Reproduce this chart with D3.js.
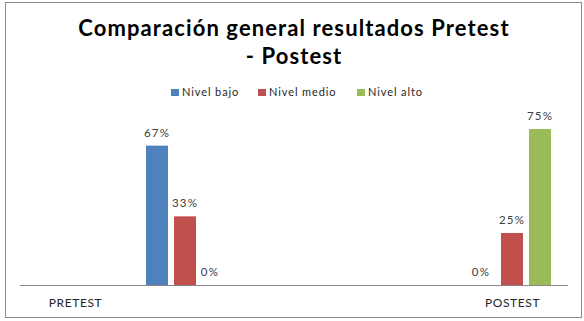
<!DOCTYPE html>
<html>
<head>
<meta charset="utf-8">
<script src="https://cdn.jsdelivr.net/npm/d3@7"></script>
<style>
  body { margin: 0; background: #fff; }
  svg text { font-family: Lato, "Open Sans", sans-serif; }
</style>
</head>
<body>
<div id="chart"></div>
<script>
const categories = ['PRETEST', 'POSTEST']
const series = ['Nivel bajo', 'Nivel medio', 'Nivel alto']
const bajo = [0.67, 0]
const medio = [0.33, 0.25]
const alto = [0, 0.75]
const labels = [['67%', '0%'], ['33%', '25%'], ['0%', '75%']]
const colors = ['#4F81BD', '#C0504D', '#9BBB59']

const W = 584, H = 321
const axisY = 285

const svg = d3.select('#chart').append('svg')
    .attr('width', W)
    .attr('height', H)

// frame
svg.append('rect')
    .attr('x', 5.5).attr('y', 2.5)
    .attr('width', 576).attr('height', 315)
    .attr('fill', '#fff')
    .attr('stroke', '#8c8c8c')

// title
const title = svg.append('text')
    .attr('text-anchor', 'middle')
    .attr('font-weight', 'bold')
    .attr('font-size', 22)
    .attr('letter-spacing', 1.1)
    .attr('fill', '#000')
title.append('tspan').attr('x', 294).attr('y', 36).text('Comparación general resultados Pretest')
title.append('tspan').attr('x', 294).attr('y', 64).text('- Postest')

// legend
const legendX = [171, 258, 357]
const legend = svg.append('g')
series.forEach((s, i) => {
    legend.append('rect')
        .attr('x', legendX[i]).attr('y', 89)
        .attr('width', 8).attr('height', 7)
        .attr('fill', colors[i])
    legend.append('text')
        .attr('x', legendX[i] + 11).attr('y', 96)
        .attr('font-size', 11)
        .attr('letter-spacing', 0.9)
        .attr('fill', '#262626')
        .text(s)
})

// scales
const x = d3.scalePoint()
    .domain(categories)
    .range([185, 512])

const xInner = d3.scaleBand()
    .domain(series)
    .range([-39, 39])
    .paddingInner(0.214)

const y = d3.scaleLinear()
    .domain([0, 1])
    .range([axisY, axisY - 208])

const values = [bajo, medio, alto]

const groups = svg.selectAll('g.series')
    .data(series)
    .enter()
    .append('g')
    .attr('class', 'series')

groups.each(function(s, i) {
    const g = d3.select(this)
    const data = categories.map((c, j) => ({cat: c, v: values[i][j], label: labels[i][j]}))
    g.selectAll('rect')
        .data(data)
        .enter()
        .append('rect')
        .attr('x', d => x(d.cat) + xInner(s))
        .attr('y', d => y(d.v))
        .attr('width', xInner.bandwidth())
        .attr('height', d => axisY - y(d.v))
        .attr('fill', colors[i])
    g.selectAll('text')
        .data(data)
        .enter()
        .append('text')
        .attr('x', d => x(d.cat) + xInner(s) + xInner.bandwidth() / 2 - (d.v === 0 ? 3 : 0))
        .attr('y', d => y(d.v) - 9)
        .attr('text-anchor', 'middle')
        .attr('font-size', 11.5)
        .attr('letter-spacing', 1.2)
        .attr('fill', '#404040')
        .text(d => d.label)
})

// category axis
const axis = svg.append('g')
    .attr('transform', `translate(0, ${axisY})`)
    .call(d3.axisBottom(x).tickSize(0).tickPadding(13))
axis.select('.domain').remove()
axis.append('line')
    .attr('x1', 20).attr('x2', 568)
    .attr('y1', 0.5).attr('y2', 0.5)
    .attr('stroke', '#868686')
axis.selectAll('.tick text')
    .attr('font-size', 12)
    .attr('font-family', 'Lato, sans-serif')
    .attr('letter-spacing', 0.6)
    .attr('fill', '#262626')
    .attr('dx', (d, i) => i === 0 ? -110 : 0)
</script>
</body>
</html>
